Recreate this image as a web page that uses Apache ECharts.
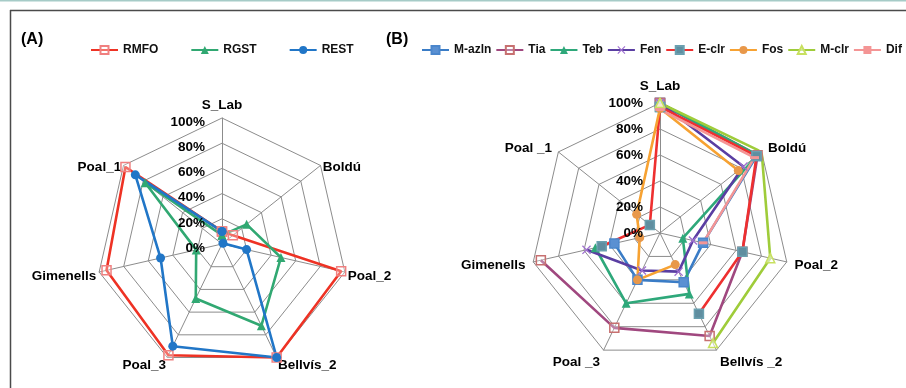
<!DOCTYPE html>
<html><head><meta charset="utf-8">
<script src="https://cdn.jsdelivr.net/npm/echarts@6/dist/echarts.min.js"></script>
<style>html,body{margin:0;padding:0;background:#fff}#c{width:906px;height:388px}</style>
</head><body><div id="c"></div>
<script>
// Categories (clockwise from top, as in the reference)
const catsA = ['S_Lab', 'Boldú', 'Poal_2', 'Bellvís_2', 'Poal_3', 'Gimenells', 'Poal_1'];
const catsB = ['S_Lab', 'Boldú', 'Poal_2', 'Bellvís _2', 'Poal _3', 'Gimenells', 'Poal _1'];
const tickLabels = ['0%', '20%', '40%', '60%', '80%', '100%'];

// Panel (A) series, % values
const RMFO = [10, 11, 97, 100, 98, 94, 98];
const RGST = [7, 25, 48, 72, 48, 21, 78];
const REST = [10, 1, 20, 100, 90, 50, 88];

// Panel (B) series, % values (null = no value)
const Mazln = [100, 95, 34, 42, 40, 36, null];
const Tia   = [100, 96, 65, 88, 81, 94, null];
const Teb   = [100, 96, 18, 52, 60, 51, null];
const Fen   = [100, 82, 26, 33, 32, 58, null];
const Eclr  = [97, 95, 65, 69, null, 46, 10];
const Fos   = [96, 77, null, 27, 40, 16, 23];
const Mclr  = [100, 100, 87, 94, null, null, null];
const Dif   = [95, 93, 34, null, null, null, null];

const F = "'Liberation Sans',Arial,sans-serif";
const FS = 13.5;
const GRID = '#8c8c8c';

function loop(vals) {
  const d = vals.map((v, i) => [v == null ? '-' : v, i]);
  d.push([vals[0] == null ? '-' : vals[0], vals.length]);
  return d;
}
function radarIndicators(cats) {
  // radar places indicators counter-clockwise; reverse to get clockwise order
  const order = [cats[0]].concat(cats.slice(1).reverse());
  return order.map(n => ({ name: n, min: 0, max: 100 }));
}
function tok(pad) {
  return { padding: pad, fontSize: FS, fontWeight: 'bold', fontFamily: F, color: '#000' };
}
function radarCfg(center, radius, cats, gap, pt, ps, pb) {
  return {
    center: center, radius: radius, startAngle: 90, shape: 'polygon', splitNumber: 5,
    indicator: radarIndicators(cats), nameGap: gap,
    axisName: {
      color: '#000', fontSize: FS, fontWeight: 'bold', fontFamily: F, verticalAlign: 'middle',
      formatter: (n) => {
        const i = cats.indexOf(n);
        const k = i === 0 ? 't' : (i === 3 || i === 4) ? 'b' : 's';
        return '{' + k + '|' + n + '}';
      },
      rich: { t: tok([0, 0, pt, 0]), s: tok([ps, 0, 0, 0]), b: tok([pb, 0, 0, 0]) }
    },
    splitLine: { lineStyle: { color: GRID, width: 1 } },
    splitArea: { show: false },
    axisLine: { lineStyle: { color: GRID, width: 1 } },
    axisTick: { show: false },
    axisLabel: { show: false }
  };
}
function radiusAxisCfg(idx, pad) {
  return {
    polarIndex: idx, type: 'value', min: 0, max: 100, interval: 20,
    axisLine: { show: false }, axisTick: { show: false }, splitLine: { show: false },
    axisLabel: {
      formatter: v => '{v|' + tickLabels[Math.round(v / 20)] + '}', margin: 17,
      color: '#000', fontSize: FS, fontWeight: 'bold', fontFamily: F,
      rich: { v: tok([pad, 0, 0, 0]) }
    },
    z: 20
  };
}
function ser(name, vals, polar, color, symbol, symColor, border, size) {
  return {
    name: name, type: 'line', coordinateSystem: 'polar', polarIndex: polar,
    data: loop(vals), symbol: symbol, symbolSize: size || 8, showSymbol: true, showAllSymbol: true,
    connectNulls: false, color: color,
    lineStyle: { color: color, width: 2.6 },
    itemStyle: { color: symColor, borderColor: border || symColor, borderWidth: border ? 1.5 : 0 },
    emphasis: { disabled: true }
  };
}
const XPATH = 'path://M1,0L5,4L9,0L10,1L6,5L10,9L9,10L5,6L1,10L0,9L4,5L0,1Z';
const legText = { fontSize: 12, fontWeight: 'bold', fontFamily: F, color: '#111' };

const chart = echarts.init(document.getElementById('c'));
chart.setOption({
  animation: false,
  backgroundColor: '#fff',
  title: [
    { text: '(A)', left: 21, top: 32, padding: 0, textStyle: { fontSize: 16, fontWeight: 'bold', fontFamily: F, color: '#000' } },
    { text: '(B)', left: 386, top: 32, padding: 0, textStyle: { fontSize: 16, fontWeight: 'bold', fontFamily: F, color: '#000' } }
  ],
  legend: [
    { data: ['RMFO', 'RGST', 'REST'], left: 90, top: 44, padding: 0, width: 400,
      itemWidth: 27, itemHeight: 10, itemGap: 32, textStyle: legText },
    { data: ['M-azln', 'Tia', 'Teb', 'Fen', 'E-clr', 'Fos', 'M-clr', 'Dif'], left: 421, top: 44, padding: 0, width: 600,
      itemWidth: 27, itemHeight: 10, itemGap: 4, textStyle: legText }
  ],
  graphic: [
    { type: 'line', shape: { x1: 0, y1: 0.5, x2: 906, y2: 0.5 }, style: { stroke: '#a6cbc7', lineWidth: 2 } },
    { type: 'line', shape: { x1: 10, y1: 10.5, x2: 906, y2: 10.5 }, style: { stroke: '#4a4a4a', lineWidth: 1.5 } },
    { type: 'line', shape: { x1: 10.5, y1: 10, x2: 10.5, y2: 388 }, style: { stroke: '#4a4a4a', lineWidth: 1.5 } }
  ],
  radar: [
    radarCfg([222, 244], 126, catsA, 3, 20, 8, 10),
    radarCfg([660, 233], 130, catsB, 8, 18, 3, 10)
  ],
  polar: [
    { center: [222, 244], radius: 126 },
    { center: [660, 233], radius: 130 }
  ],
  angleAxis: [
    { polarIndex: 0, type: 'value', min: 0, max: 7, startAngle: 90, clockwise: true, show: false },
    { polarIndex: 1, type: 'value', min: 0, max: 7, startAngle: 90, clockwise: true, show: false }
  ],
  radiusAxis: [radiusAxisCfg(0, 8), radiusAxisCfg(1, 1)],
  series: [
    ser('RMFO', RMFO, 0, '#ee3224', 'rect', 'rgba(255,255,255,0.3)', '#f08080', 9),
    ser('RGST', RGST, 0, '#31a872', 'triangle', '#31a872', null, 9),
    ser('REST', REST, 0, '#2176c7', 'circle', '#2176c7', null, 9),

    ser('M-azln', Mazln, 1, '#3a7cc6', 'rect', '#5a90d2', '#4a86cc', 9),
    ser('Tia', Tia, 1, '#a0487f', 'rect', 'rgba(255,255,255,0.3)', '#c77070', 9),
    ser('Teb', Teb, 1, '#2ea87a', 'triangle', '#2ea87a', null, 9),
    ser('Fen', Fen, 1, '#5a3ea2', XPATH, '#a070d0', null, 9),
    ser('E-clr', Eclr, 1, '#ee3030', 'rect', '#5f8ea0', '#6aa0b0', 9),
    ser('Fos', Fos, 1, '#f7a232', 'circle', '#e8984a', null, 9),
    ser('M-clr', Mclr, 1, '#9fcc3a', 'triangle', 'rgba(255,255,255,0.5)', '#c8e060', 9),
    ser('Dif', Dif, 1, '#f49595', 'rect', '#f49595', null, [9, 3])
  ]
});
</script></body></html>
